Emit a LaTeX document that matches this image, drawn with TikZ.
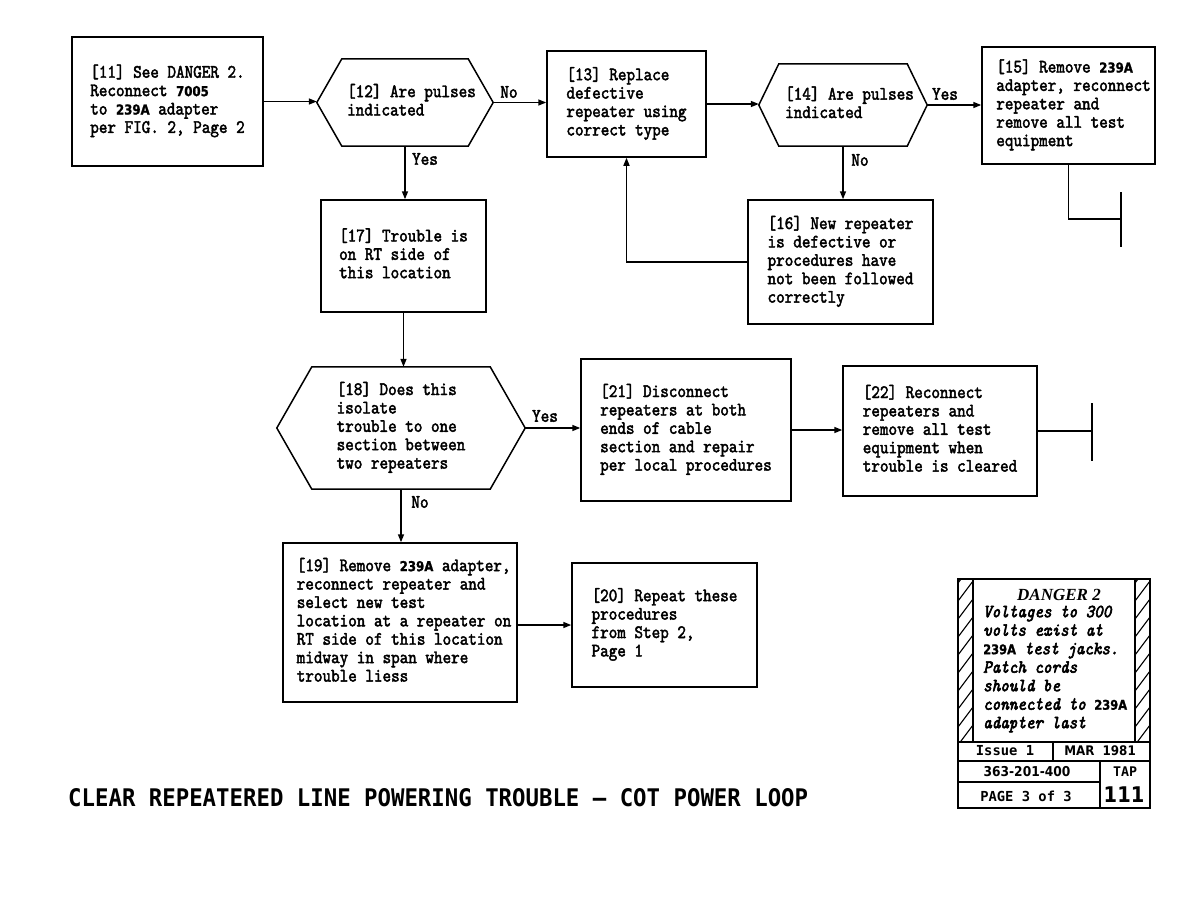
\documentclass[tikz,border=0pt]{standalone}
\usepackage{fontspec}
\usepackage{graphicx}
\usetikzlibrary{arrows.meta}
\newfontfamily\tw{lmmono10-regular.otf}[FakeStretch=0.86,FakeBold=2.2]
\newfontfamily\twi{lmmono10-italic.otf}[FakeStretch=0.88,FakeBold=3.2]
\newfontfamily\dvm{DejaVu Sans}[Scale=0.72,FakeStretch=0.86,FakeBold=1.2]
\newfontfamily\dvs{DejaVu Sans Mono}
\newfontfamily\dvp{DejaVu Sans}[FakeStretch=0.9]
\newfontfamily\lser{Liberation Serif}
\newcommand\bdn[1]{{\dvm\bfseries #1}}
\newcommand\tb[2]{\hspace*{#1}\begin{tabular}{@{}l@{}}#2\end{tabular}}
\newcommand\hexdraw[2]{\draw[line width=1.5pt] (#1.west) -- ([xshift=#2]#1.north west) -- ([xshift=-#2]#1.north east) -- (#1.east) -- ([xshift=-#2]#1.south east) -- ([xshift=#2]#1.south west) -- cycle;}
\begin{document}
\begin{tikzpicture}[x=1pt,y=-1pt,
  txt/.style={font={\tw\fontsize{19}{18.4}\selectfont}},
  box/.style={txt,draw,line width=1.5pt,inner sep=0pt},
  hexn/.style={txt,inner sep=0pt},
  conn/.style={line width=1.5pt,-{Triangle[length=8pt,width=6pt]}},
  plain/.style={line width=1.5pt},
  lab/.style={txt,inner sep=0pt},
  tbl/.style={inner sep=0pt,font={\dvs\bfseries\fontsize{13.8}{16}\selectfont}},
  tbn/.style={inner sep=0pt,font={\dvp\bfseries\fontsize{13.2}{16}\selectfont}}]
\fill[white] (0,0) rectangle (1188,918);
\useasboundingbox (0,0) rectangle (1188,918);

% boxes
\node[box,minimum width=191pt,minimum height=129pt] (b11) at (167.5,101.5)
  {\tb{0pt}{[11] See DANGER 2.\\Reconnect \bdn{7005}\\to \bdn{239A} adapter\\per FIG. 2, Page 2}};
\node[hexn,minimum width=176pt,minimum height=87pt] (h12) at (405,102.5)
  {\tb{13pt}{[12] Are pulses\\indicated}};
\hexdraw{h12}{25pt}
\node[box,minimum width=159pt,minimum height=106pt] (b13) at (626.5,104)
  {\tb{0pt}{[13] Replace\\defective\\repeater using\\correct type}};
\node[hexn,minimum width=168pt,minimum height=82pt] (h14) at (843,105)
  {\tb{13pt}{[14] Are pulses\\indicated}};
\hexdraw{h14}{20pt}
\node[box,minimum width=173pt,minimum height=117pt] (b15) at (1068.5,105.5)
  {\tb{10pt}{[15] Remove \bdn{239A}\\adapter, reconnect\\repeater and\\remove all test\\equipment}};
\node[box,minimum width=185pt,minimum height=124pt] (b16) at (840.5,262)
  {\tb{0pt}{[16] New repeater\\is defective or\\procedures have\\not been followed\\correctly}};
\node[box,minimum width=165pt,minimum height=112pt] (b17) at (403.5,256)
  {\tb{0pt}{[17] Trouble is\\on RT side of\\this location}};
\node[hexn,minimum width=248pt,minimum height=122pt] (h18) at (401,428)
  {\tb{0pt}{[18] Does this\\isolate\\trouble to one\\section between\\two repeaters}};
\hexdraw{h18}{35pt}
\node[box,minimum width=234pt,minimum height=159pt] (b19) at (400,622.5)
  {\tb{8pt}{[19] Remove \bdn{239A} adapter,\\reconnect repeater and\\select new test\\location at a repeater on\\RT side of this location\\midway in span where\\trouble liess}};
\node[box,minimum width=185pt,minimum height=124pt] (b20) at (664.5,625)
  {\tb{0pt}{[20] Repeat these\\procedures\\from Step 2,\\Page 1}};
\node[box,minimum width=210pt,minimum height=142pt] (b21) at (686,430)
  {\tb{0pt}{[21] Disconnect\\repeaters at both\\ends of cable\\section and repair\\per local procedures}};
\node[box,minimum width=194pt,minimum height=130pt] (b22) at (940,431)
  {\tb{0pt}{[22] Reconnect\\repeaters and\\remove all test\\equipment when\\trouble is cleared}};

\coordinate (e15) at (1121,219);
\coordinate (e22) at (1092,431);

% connectors
\draw[conn] (b11.east) -- (b11.east -| h12.west);
\draw[conn] (h12.east) -- (h12.east -| b13.west);
\draw[conn] (b13.east) -- (b13.east -| h14.west);
\draw[conn] (h14.east) -- (h14.east -| b15.west);
\draw[conn] (h14.south) -- (h14.south |- b16.north);
\draw[conn] (b16.west) -| (b13.south);
\draw[plain] (b15.south) |- (e15);
\draw[line width=2pt] ([yshift=27pt]e15) -- ([yshift=-28pt]e15);
\draw[conn] (h12.south) -- (h12.south |- b17.north);
\draw[conn] (b17.south) -- (b17.south |- h18.north);
\draw[conn] (h18.east) -- (h18.east -| b21.west);
\draw[conn] (b21.east) -- (b21.east -| b22.west);
\draw[plain] (b22.east) -- (e22);
\draw[line width=2pt] ([yshift=28pt]e22) -- ([yshift=-30pt]e22);
\draw[conn] (h18.south) -- (h18.south |- b19.north);
\draw[conn] (b20.west -| b19.east) -- (b20.west);

% labels
\node[lab] (lno12) at (509,92) {No};
\node[lab] (lyes12) at (425,159) {Yes};
\node[lab] (lyes14) at (945,94) {Yes};
\node[lab] (lno14) at (860,160) {No};
\node[lab] (lyes18) at (545,416) {Yes};
\node[lab] (lno18) at (420,502) {No};

% title
\node[anchor=west,inner sep=0pt] (title) at (68,798)
  {\resizebox{740pt}{18pt}{\dvs\bfseries CLEAR REPEATERED LINE POWERING TROUBLE – COT POWER LOOP}};

% danger box
\begin{scope}
  \clip (958,579) rectangle (973,742);
  \foreach \i in {-1,...,9} \draw[line width=1.1pt] (958,601+18*\i) -- (973,581+18*\i);
\end{scope}
\begin{scope}
  \clip (1135,579) rectangle (1150,742);
  \foreach \i in {-1,...,9} \draw[line width=1.1pt] (1135,601+18*\i) -- (1150,581+18*\i);
\end{scope}
\draw[line width=2pt] (958,579) rectangle (1150,808);
\draw[line width=1.5pt] (973,579) -- (973,742) (1135,579) -- (1135,742);
\draw[line width=1.5pt] (958,742) -- (1150,742) (958,761) -- (1150,761) (958,782) -- (1100,782);
\draw[line width=1.5pt] (1053,742) -- (1053,761) (1100,761) -- (1100,808);

\node[inner sep=0pt,font={\lser\bfseries\itshape\fontsize{17}{18}\selectfont}] (dtitle) at (1059,595) {DANGER 2};
\node[inner sep=0pt,anchor=west,font={\twi\fontsize{18.5}{18.5}\selectfont}] (dtext) at (983,669)
  {\tb{0pt}{Voltages to 300\\volts exist at\\\bdn{239A} test jacks.\\Patch cords\\should be\\connected to \bdn{239A}\\adapter last}};

\node[tbl] (iss) at (1005,751) {Issue 1};
\node[tbn] (mar) at (1100,751) {MAR\ \ 1981};
\node[tbn,font={\dvp\bfseries\fontsize{13.6}{16}\selectfont}] (num) at (1027,772) {363-201-400};
\node[tbl,font={\dvs\bfseries\fontsize{13.3}{15}\selectfont}] (tap) at (1125,772) {TAP};
\node[tbl] (pg) at (1026,796) {PAGE 3 of 3};
\node[tbn,font={\dvp\bfseries\fontsize{21.6}{24}\selectfont}] (n111) at (1124,795) {111};
\end{tikzpicture}
\end{document}
